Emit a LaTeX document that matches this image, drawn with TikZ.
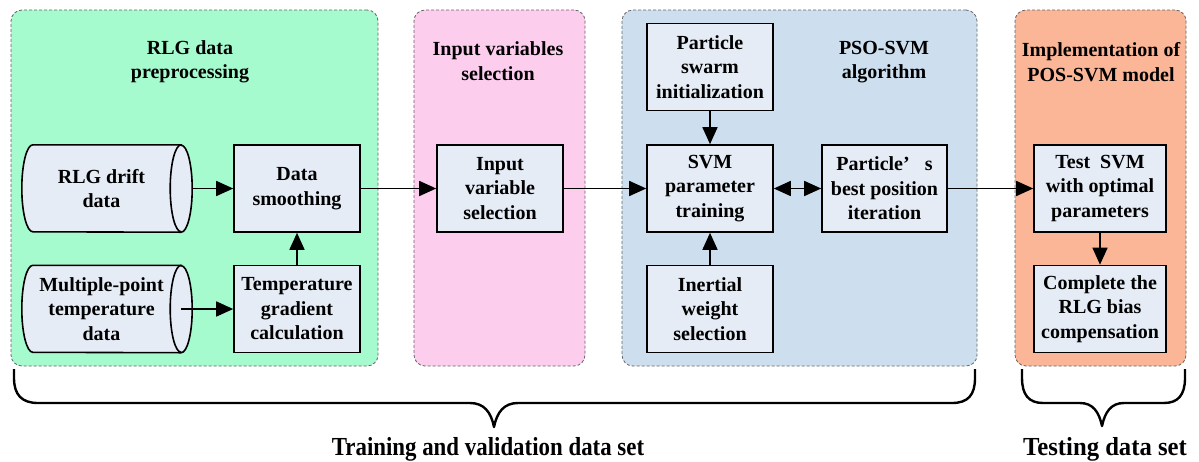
\documentclass[tikz,border=0pt]{standalone}
\usepackage{fontspec}
\usepackage{graphicx}
\setmainfont{Liberation Serif}
\usetikzlibrary{arrows.meta,calc}
\pgfdeclarelayer{panel}
\pgfdeclarelayer{shape}
\pgfsetlayers{panel,shape,main}

\definecolor{greenp}{RGB}{166,251,206}
\definecolor{pinkp}{RGB}{253,205,238}
\definecolor{bluep}{RGB}{205,223,238}
\definecolor{orangep}{RGB}{251,182,151}
\definecolor{boxfill}{RGB}{229,236,246}
\definecolor{edgegray}{RGB}{100,100,100}

\tikzset{
  procbox/.style={draw, line width=1.6pt, fill=boxfill, minimum width=126pt,
    minimum height=87pt, align=center, inner sep=2pt},
  cylbody/.style={minimum width=159pt, minimum height=87pt, align=center, inner sep=0pt},
  cylline/.style={draw, line width=1.6pt, fill=boxfill},
  panelbox/.style={draw=edgegray, dash pattern=on 3pt off 2pt, line width=0.8pt,
    rounded corners=11pt},
  title/.style={align=center},
  tip/.tip={Triangle[length=17pt,width=15pt]},
  flow/.style={line width=1.6pt, -tip},
  twoway/.style={line width=1.6pt, tip-tip},
  brace/.style={line width=2.4pt, line join=round},
  setlabel/.style={anchor=base, font=\bfseries\fontsize{26}{30}\selectfont}
}

\begin{document}
\begin{tikzpicture}[x=1pt, y=-1pt, font=\bfseries\fontsize{20}{24.5}\selectfont]
\useasboundingbox (0,0) rectangle (1199,461);

% stage panels
\begin{pgfonlayer}{panel}
  \node[panelbox, fill=greenp, minimum width=367pt, minimum height=356pt] (pgreen) at (194.5,188) {};
  \node[panelbox, fill=pinkp, minimum width=171pt, minimum height=356pt] (ppink) at (499.5,188) {};
  \node[panelbox, fill=bluep, minimum width=355pt, minimum height=356pt] (pblue) at (799.5,188) {};
  \node[panelbox, fill=orangep, minimum width=171pt, minimum height=356pt] (porange) at (1100.5,188) {};
\end{pgfonlayer}

% panel titles
\node[title] (tgreen) at (190,62) {RLG data\\preprocessing};
\node[title] (tpink) at (498,61) {Input variables\\selection};
\node[title] (tblue) at (884,62) {PSO-SVM\\algorithm};
\node[title] (torange) at (1101,62) {Implementation of\\POS-SVM model};

% data sources (drawn as cylinders)
\node[cylbody] (rlg) at (101.5,188.5) {RLG drift\\data};
\node[cylbody] (mpt) at (101.5,309) {Multiple-point\\temperature\\data};
\begin{pgfonlayer}{shape}
  \foreach \c in {rlg,mpt}{
    \draw[cylline] (\c.north east) -- ($(\c.north west)+(11,0)$)
      arc[start angle=270, end angle=90, x radius=11, y radius=43.5]
      -- (\c.south east)
      arc[start angle=90, end angle=-90, x radius=11, y radius=43.5] -- cycle;
    \draw[line width=1.6pt] (\c.north east)
      arc[start angle=270, end angle=90, x radius=11, y radius=43.5];
  }
\end{pgfonlayer}
\coordinate (rlgout) at ($(rlg.east)+(11,0)$);

% processing steps
\node[procbox] (ds) at (297,188.5) {Data\\smoothing};
\node[procbox] (tg) at (297,309) {Temperature\\gradient\\calculation};
\node[procbox] (iv) at (500,188.5) {Input\\variable\\selection};
\node[procbox] (ps) at (710,67) {Particle\\swarm\\initialization};
\node[procbox] (svm) at (710,188.5) {SVM\\parameter\\training};
\node[procbox] (iw) at (710,309) {Inertial\\weight\\selection};
\node[procbox, minimum width=125pt] (pb) at (884.5,188.5) {Particle’\hspace{0.75em}s\\best position\\iteration};
\node[procbox, minimum width=132pt] (ts) at (1100,188.5) {Test\ \ SVM\\with optimal\\parameters};
\node[procbox, minimum width=132pt] (cp) at (1100,309) {Complete the\\RLG bias\\compensation};

% flow connections
\draw[flow] (rlgout) -- (ds.west);
\draw[flow] (mpt.east) -- (tg.west);
\draw[flow] (tg.north) -- (ds.south);
\draw[flow] (ds.east) -- (iv.west);
\draw[flow] (iv.east) -- (svm.west);
\draw[flow] (ps.south) -- (svm.north);
\draw[flow] (iw.north) -- (svm.south);
\draw[twoway] (svm.east) -- (pb.west);
\draw[flow] (pb.east) -- (ts.west);
\draw[flow] (ts.south) -- (cp.north);

% braces grouping the stages
\draw[brace] (14,369) -- (14,378) .. controls (14,395) and (22,403) .. (38,403)
  -- (470,403) .. controls (484,403) and (491,412) .. (494,427)
  .. controls (497,412) and (504,403) .. (518,403)
  -- (952,403) .. controls (968,403) and (975,395) .. (975,378) -- (975,369);
\draw[brace] (1022,369) -- (1022,378) .. controls (1022,395) and (1029,403) .. (1043,403)
  -- (1080,403) .. controls (1093,403) and (1099,412) .. (1102,426)
  .. controls (1105,412) and (1111,403) .. (1124,403)
  -- (1164,403) .. controls (1178,403) and (1185,395) .. (1185,378) -- (1185,369);

% data set labels
\node[setlabel] (ltrain) at (488,455) {\scalebox{0.88}[1]{Training and validation data set}};
\node[setlabel] (ltest) at (1105,455) {\scalebox{0.95}[1]{Testing data set}};
\end{tikzpicture}
\end{document}
